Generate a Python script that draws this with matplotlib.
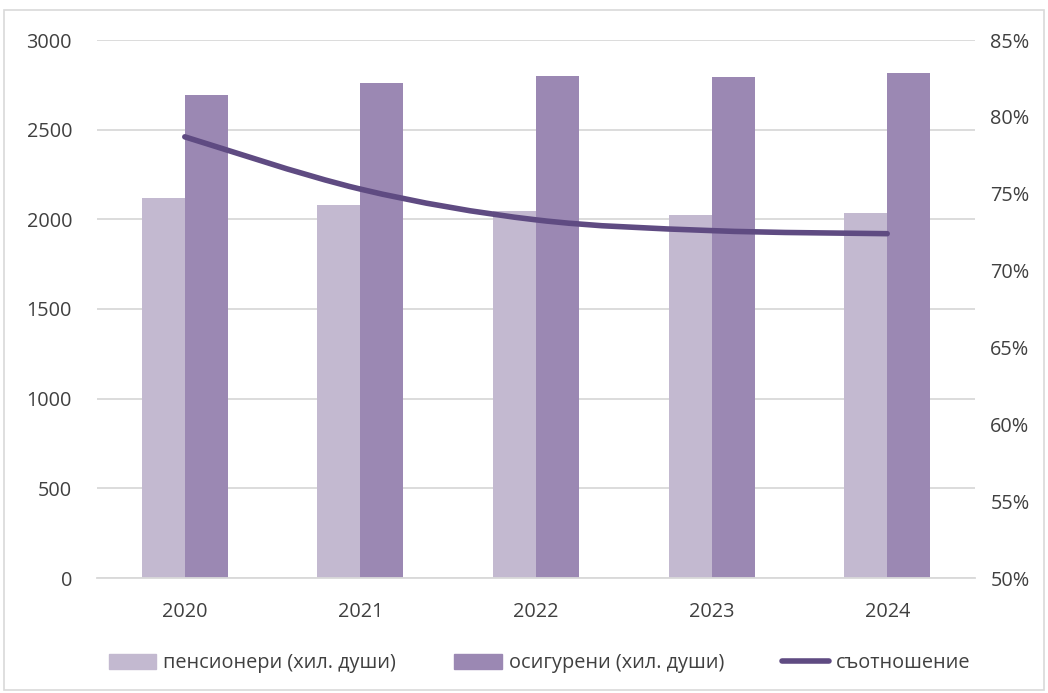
import numpy as np
import matplotlib; matplotlib.use("Agg")
import matplotlib.pyplot as plt
from matplotlib.path import Path
from matplotlib.patches import PathPatch, Rectangle
from matplotlib.lines import Line2D

years = ["2020", "2021", "2022", "2023", "2024"]
pensioners = [2119, 2080, 2047, 2024, 2036]      # хил. души
insured = [2694, 2761, 2800, 2794, 2816]         # хил. души
ratio = [78.7, 75.3, 73.3, 72.6, 72.4]           # %

C_LIGHT, C_DARK, C_LINE, C_GRID = "#C3B9D0", "#9B88B3", "#5F4B82", "#D9D9D9"
plt.rcParams["font.family"] = ["Open Sans", "DejaVu Sans"]
FS = 14.3

fig = plt.figure(figsize=(10.48, 6.93), dpi=100)
ax = fig.add_axes([97 / 1048, 1 - 578 / 693, (975 - 97) / 1048, (578 - 40) / 693])
x = np.arange(len(years))
w = 0.245
ax.bar(x - w / 2, pensioners, w, color=C_LIGHT, zorder=2)
ax.bar(x + w / 2, insured, w, color=C_DARK, zorder=2)
ax.set_xlim(-0.5, len(years) - 0.5)
ax.set_ylim(0, 3000)
ax.set_yticks(range(0, 3001, 500))
ax.set_xticks(x, years)
ax.yaxis.grid(True, color=C_GRID, lw=1.3, zorder=0)
for s in ax.spines.values():
    s.set_visible(False)
ax.spines["bottom"].set_visible(True)
ax.spines["bottom"].set_color(C_GRID)
ax.spines["bottom"].set_linewidth(1.3)
ax.tick_params(length=0, labelsize=FS, colors="#404040")
ax.tick_params(axis="y", pad=18)
ax.tick_params(axis="x", pad=17)

ax2 = ax.twinx()
ax2.set_ylim(50, 85)
ax2.set_yticks(range(50, 86, 5))
ax2.set_yticklabels([f"{v}%" for v in range(50, 86, 5)])
for s in ax2.spines.values():
    s.set_visible(False)
ax2.tick_params(length=0, labelsize=FS, colors="#404040", pad=11)

# smoothed line (Excel-style), drawn as Bezier through the data points
pts = np.column_stack([x, ratio]).astype(float)
verts, codes = [pts[0]], [Path.MOVETO]
for i in range(len(pts) - 1):
    p0 = pts[max(i - 1, 0)]; p1 = pts[i]; p2 = pts[i + 1]; p3 = pts[min(i + 2, len(pts) - 1)]
    c1 = p1 + (p2 - p0) / 6
    c2 = p2 - (p3 - p1) / 6
    verts += [c1, c2, p2]; codes += [Path.CURVE4] * 3
ax2.add_patch(PathPatch(Path(verts, codes), fill=False, edgecolor=C_LINE,
                        lw=4, capstyle="round", joinstyle="round", zorder=3))

handles = [Rectangle((0, 0), 1, 1, color=C_LIGHT), Rectangle((0, 0), 1, 1, color=C_DARK),
           Line2D([], [], color=C_LINE, lw=4, solid_capstyle="round")]
labels = ["пенсионери (хил. души)", "осигурени (хил. души)", "съотношение"]
fig.legend(handles, labels, loc="center", bbox_to_anchor=(0.515, 1 - 663 / 693), ncol=3,
           frameon=False, fontsize=FS, handlelength=2.4, handleheight=0.8,
           handletextpad=0.35, columnspacing=2.9, labelcolor="#404040")

fig.add_artist(Rectangle((4 / 1048, 3 / 693), 1040 / 1048, 680 / 693, transform=fig.transFigure,
                         fill=False, edgecolor=C_GRID, lw=1.2))
fig.savefig("out.png", dpi=100)
